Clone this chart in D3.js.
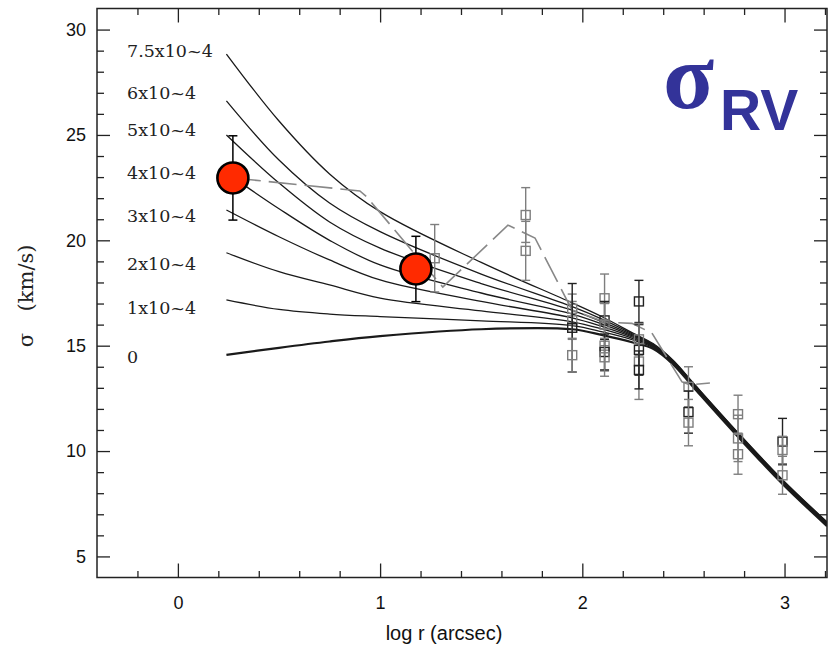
<!DOCTYPE html>
<html>
<head>
<meta charset="utf-8">
<script src="https://cdn.jsdelivr.net/npm/d3@7"></script>
<style>
  html, body { margin: 0; padding: 0; background: #fff; }
  svg { display: block; }
</style>
</head>
<body>
<svg id="chart" width="831" height="648"></svg>
<script>
// ---------------- DATA ----------------
const xTicks = [0, 1, 2, 3];
const yTicks = [5, 10, 15, 20, 25, 30];
const modelX = [0.24, 0.5, 0.75, 1.0, 1.5, 1.95, 2.1, 2.25, 2.35, 2.45, 2.55, 2.78, 2.99, 3.21];
const modelLabels = ["7.5x10~4", "6x10~4", "5x10~4", "4x10~4", "3x10~4", "2x10~4", "1x10~4", "0"];
const model75 = [28.84, 25.66, 23.15, 21.36, 18.95, 17.03, 16.36, 15.60, 15.10, 14.30, 13.22, 10.77, 8.64, 6.64];
const model60 = [26.62, 23.81, 21.77, 20.41, 18.40, 16.85, 16.25, 15.55, 15.07, 14.28, 13.20, 10.75, 8.62, 6.62];
const model50 = [25.00, 22.72, 20.87, 19.63, 17.95, 16.68, 16.13, 15.50, 15.04, 14.25, 13.17, 10.72, 8.59, 6.59];
const model40 = [23.20, 21.50, 20.00, 18.83, 17.50, 16.50, 16.02, 15.45, 15.01, 14.22, 13.14, 10.69, 8.56, 6.56];
const model30 = [21.44, 20.17, 19.07, 18.12, 17.10, 16.32, 15.90, 15.40, 14.98, 14.19, 13.11, 10.66, 8.53, 6.53];
const model20 = [19.41, 18.51, 17.88, 17.26, 16.65, 16.13, 15.78, 15.34, 14.95, 14.16, 13.08, 10.63, 8.50, 6.50];
const model10 = [17.17, 16.72, 16.50, 16.38, 16.18, 15.95, 15.65, 15.27, 14.91, 14.13, 13.05, 10.60, 8.47, 6.47];
const model00 = [14.56, 14.90, 15.20, 15.45, 15.78, 15.78, 15.50, 15.15, 14.85, 14.10, 13.02, 10.57, 8.44, 6.44];
const models = [model75, model60, model50, model40, model30, model20, model10, model00];
const labelSigma = [29.0, 27.0, 25.25, 23.2, 21.15, 18.87, 16.78, 14.5];

// dashed gray profile
const dashX = [0.272, 0.90, 0.935, 1.31, 1.632, 1.766, 1.949, 2.112, 2.245, 2.344, 2.493, 2.532, 2.631];
const dashY = [22.96, 22.34, 22.05, 17.78, 20.72, 20.11, 16.69, 16.12, 16.06, 15.60, 13.28, 13.14, 13.23];

// square data points (x, sigma, error, dark?)
const sqX =   [1.27, 1.72, 1.72, 1.95, 1.95, 1.95, 1.95, 2.11, 2.11, 2.11, 2.11, 2.11, 2.11, 2.28, 2.28, 2.28, 2.28, 2.28, 2.525, 2.525, 2.525, 2.77, 2.77, 2.77, 2.99, 2.99, 2.99];
const sqY =   [19.15, 21.2, 19.5, 16.75, 16.2, 15.85, 14.55, 17.25, 16.2, 16.0, 15.0, 14.7, 14.45, 17.1, 15.3, 14.8, 14.25, 13.85, 13.05, 11.85, 11.35, 11.75, 10.6, 9.85, 10.45, 10.05, 8.85];
const sqErr = [1.6, 1.3, 1.4, 0.7, 0.9, 2.1, 0.8, 1.15, 0.9, 1.0, 1.2, 0.85, 0.9, 1.0, 0.75, 1.2, 1.8, 0.9, 0.95, 1.0, 1.1, 0.9, 1.1, 0.95, 1.1, 0.65, 0.9];
const sqDark = [0, 0, 0, 0, 0, 1, 0, 0, 1, 0, 0, 1, 0, 1, 0, 1, 0, 1, 0, 1, 0, 0, 0, 0, 1, 0, 0];

// red points
const redX = [0.272, 1.177];
const redY = [22.96, 18.64];
const redErr = [2.0, 1.55];

// ---------------- CHART ----------------
const svg = d3.select("#chart");
const L = 97, R = 827, T = 8.5, B = 577.5;
const x = d3.scaleLinear().domain([-0.4, 3.21]).range([L, R]);
const y = d3.scaleLinear().domain([4, 31]).range([B, T]);

const gPlot = svg.append("g");

// model curves
const line = d3.line().x(d => x(d[0])).y(d => y(d[1])).curve(d3.curveCatmullRom.alpha(0.5));
gPlot.append("defs").append("clipPath").attr("id", "clip")
  .append("rect").attr("x", L).attr("y", T).attr("width", R - L).attr("height", B - T);

const curves = gPlot.append("g").attr("clip-path", "url(#clip)");
models.forEach((m, i) => {
  curves.append("path")
    .attr("d", line(modelX.map((v, k) => [v, m[k]])))
    .attr("fill", "none")
    .attr("stroke", "#1a1a1a")
    .attr("stroke-width", i === models.length - 1 ? 2.2 : 1.3);
});

// dashed profile
gPlot.append("path")
  .attr("d", d3.line().x(d => x(d[0])).y(d => y(d[1]))(dashX.map((v, k) => [v, dashY[k]])))
  .attr("fill", "none")
  .attr("stroke", "#888")
  .attr("stroke-width", 1.6)
  .attr("stroke-dasharray", "28,8");

// square points with error bars
const sq = gPlot.append("g");
sqX.forEach((xv, i) => {
  const col = sqDark[i] ? "#222" : "#7e7e7e";
  const cx = x(xv), cy = y(sqY[i]);
  const y1 = y(sqY[i] + sqErr[i]), y2 = y(sqY[i] - sqErr[i]);
  const g = sq.append("g").attr("stroke", col).attr("fill", "none").attr("stroke-width", 1.4);
  g.append("line").attr("x1", cx).attr("x2", cx).attr("y1", y1).attr("y2", y2);
  g.append("line").attr("x1", cx - 4.5).attr("x2", cx + 4.5).attr("y1", y1).attr("y2", y1);
  g.append("line").attr("x1", cx - 4.5).attr("x2", cx + 4.5).attr("y1", y2).attr("y2", y2);
  g.append("rect").attr("x", cx - 4.5).attr("y", cy - 4.5).attr("width", 9).attr("height", 9)
    .attr("fill", "rgba(255,255,255,0)");
});

// red points
redX.forEach((xv, i) => {
  const cx = x(xv), cy = y(redY[i]);
  const y1 = y(redY[i] + redErr[i]), y2 = y(redY[i] - redErr[i]);
  const g = gPlot.append("g").attr("stroke", "#000").attr("stroke-width", 1.5);
  g.append("line").attr("x1", cx).attr("x2", cx).attr("y1", y1).attr("y2", y2);
  g.append("line").attr("x1", cx - 4.5).attr("x2", cx + 4.5).attr("y1", y1).attr("y2", y1);
  g.append("line").attr("x1", cx - 4.5).attr("x2", cx + 4.5).attr("y1", y2).attr("y2", y2);
  g.append("circle").attr("cx", cx).attr("cy", cy).attr("r", 15.5)
    .attr("fill", "#ff2a00").attr("stroke", "#000").attr("stroke-width", 2.6);
});

// curve labels
modelLabels.forEach((t, i) => {
  svg.append("text")
    .attr("x", 127).attr("y", y(labelSigma[i]))
    .attr("dy", "0.36em")
    .attr("font-family", "DejaVu Serif")
    .attr("font-size", 17.5)
    .attr("fill", "#222")
    .text(t);
});

// axes
const xMinor = d3.range(-0.2, 3.21, 0.2).map(v => +v.toFixed(2)).filter(v => Math.abs(v - Math.round(v)) > 1e-6);
const yMinor = d3.range(5, 31, 1).filter(v => v % 5 !== 0);

function styleAxis(g) {
  g.select(".domain").remove();
  g.selectAll(".tick line").attr("stroke", "#222").attr("stroke-width", 1.3);
  g.selectAll("text").attr("font-family", "Liberation Sans, Arial, sans-serif").attr("font-size", 18).attr("fill", "#111");
}

svg.append("g").attr("transform", `translate(0,${B})`)
  .call(d3.axisBottom(x).tickValues(xTicks).tickSize(-14).tickPadding(19).tickFormat(d3.format("d")))
  .call(styleAxis);
svg.append("g").attr("transform", `translate(0,${B})`)
  .call(d3.axisBottom(x).tickValues(xMinor).tickSize(-6.5).tickFormat(""))
  .call(styleAxis);
svg.append("g").attr("transform", `translate(0,${T})`)
  .call(d3.axisTop(x).tickValues(xTicks).tickSize(-14).tickFormat(""))
  .call(styleAxis);
svg.append("g").attr("transform", `translate(0,${T})`)
  .call(d3.axisTop(x).tickValues(xMinor).tickSize(-6.5).tickFormat(""))
  .call(styleAxis);
svg.append("g").attr("transform", `translate(${L},0)`)
  .call(d3.axisLeft(y).tickValues(yTicks).tickSize(-13).tickPadding(11).tickFormat(d3.format("d")))
  .call(styleAxis);
svg.append("g").attr("transform", `translate(${L},0)`)
  .call(d3.axisLeft(y).tickValues(yMinor).tickSize(-7).tickFormat(""))
  .call(styleAxis);
svg.append("g").attr("transform", `translate(${R},0)`)
  .call(d3.axisRight(y).tickValues(yTicks).tickSize(-13).tickFormat(""))
  .call(styleAxis);
svg.append("g").attr("transform", `translate(${R},0)`)
  .call(d3.axisRight(y).tickValues(yMinor).tickSize(-7).tickFormat(""))
  .call(styleAxis);

// frame
svg.append("rect").attr("x", L).attr("y", T).attr("width", R - L).attr("height", B - T)
  .attr("fill", "none").attr("stroke", "#222").attr("stroke-width", 1.5);

// axis titles
svg.append("text")
  .attr("x", 444).attr("y", 640)
  .attr("text-anchor", "middle")
  .attr("font-family", "Liberation Sans, Arial, sans-serif")
  .attr("font-size", 20)
  .attr("fill", "#111")
  .text("log r (arcsec)");

svg.append("text")
  .attr("transform", "translate(33,340) rotate(-90)")
  .attr("text-anchor", "middle")
  .attr("font-family", "DejaVu Serif")
  .attr("font-size", 21)
  .attr("fill", "#222")
  .text("σ");
svg.append("text")
  .attr("transform", "translate(33,278) rotate(-90)")
  .attr("text-anchor", "middle")
  .attr("font-family", "DejaVu Serif")
  .attr("font-size", 21)
  .attr("fill", "#222")
  .text("(km/s)");

// sigma_RV title
const title = svg.append("text").attr("fill", "#333399").attr("font-weight", "bold");
title.append("tspan").attr("x", 663).attr("y", 108)
  .attr("font-family", "Liberation Serif, Times New Roman, serif").attr("font-size", 94).text("σ");
title.append("tspan").attr("x", 720).attr("y", 130)
  .attr("font-family", "Liberation Sans, Arial, sans-serif").attr("font-size", 57).text("RV");
</script>
</body>
</html>
